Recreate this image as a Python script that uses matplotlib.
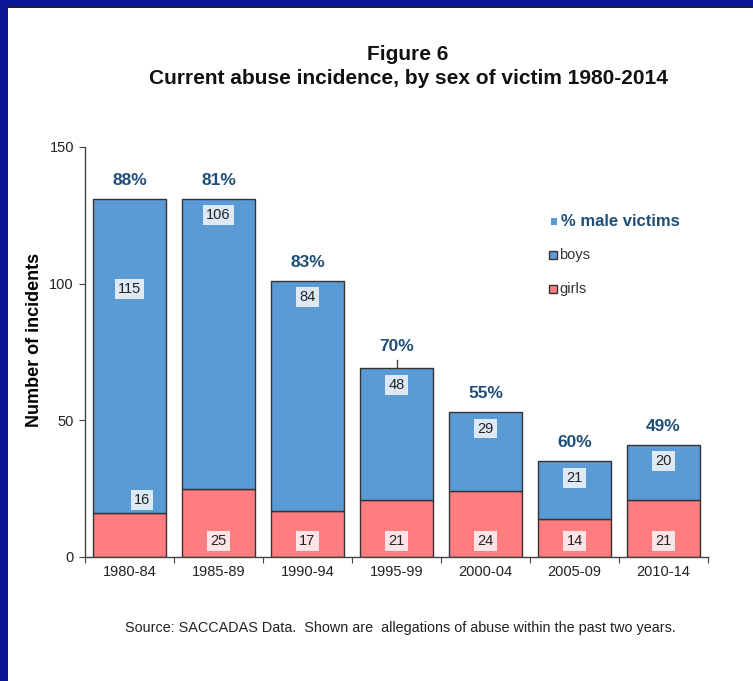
import matplotlib
matplotlib.use("Agg")
import matplotlib.pyplot as plt
from matplotlib.patches import Rectangle
from matplotlib.lines import Line2D
import numpy as np

periods = ["1980-84", "1985-89", "1990-94", "1995-99", "2000-04", "2005-09", "2010-14"]
boys = [115, 106, 84, 48, 29, 21, 20]
girls = [16, 25, 17, 21, 24, 14, 21]
pct_male = [88, 81, 83, 70, 55, 60, 49]
y_ticks = [0, 50, 100, 150]

FAM = ["Liberation Sans", "DejaVu Sans"]
plt.rcParams["font.family"] = FAM

BLUE = "#5B9BD5"
PINK = "#FF7C80"
DARKBLUE = "#1F4E79"
NAVY = "#0B1596"

fig = plt.figure(figsize=(7.53, 6.81), dpi=100)
fig.patch.set_facecolor("white")
# navy border
fig.patches.append(Rectangle((0, 0), 1, 1, transform=fig.transFigure, facecolor=NAVY, edgecolor="none", zorder=-10))
fig.patches.append(Rectangle((8/753, 0), 1, 1 - 8/681, transform=fig.transFigure, facecolor="white", edgecolor="none", zorder=-9))
fig.add_artist(Line2D([8/753, 1], [1 - 7/681, 1 - 7/681], transform=fig.transFigure, color="#222222", lw=1.2))

ax = fig.add_axes([85/753, 1 - 557/681, 623/753, 410/681])
x = np.arange(len(periods))
w = 0.83
ax.bar(x, girls, w, color=PINK, edgecolor="#333333", linewidth=1.0, zorder=2)
ax.bar(x, boys, w, bottom=girls, color=BLUE, edgecolor="#333333", linewidth=1.0, zorder=2)

ax.set_xlim(-0.5, len(periods) - 0.5)
ax.set_ylim(0, 150)
ax.set_yticks(y_ticks)
ax.set_yticklabels([str(t) for t in y_ticks], fontsize=10.5, color="#222222")
ax.set_xticks(np.arange(-0.5, len(periods)), minor=False)
ax.set_xticklabels([])
ax.set_xticks(x, minor=True)
ax.set_xticklabels(periods, minor=True, fontsize=10.5, color="#222222")
ax.tick_params(axis="x", which="minor", length=0, pad=6)
ax.tick_params(axis="x", which="major", length=4, direction="out", color="#444444")
ax.tick_params(axis="y", length=4, direction="out", color="#444444", pad=4)
for s in ["top", "right"]:
    ax.spines[s].set_visible(False)
for s in ["left", "bottom"]:
    ax.spines[s].set_color("#444444")
    ax.spines[s].set_linewidth(1.0)

ax.set_ylabel("Number of incidents", fontsize=13, fontweight="bold")
ax.yaxis.set_label_coords(-0.068, 0.53)

boxkw = dict(boxstyle="square,pad=0.2", facecolor="white", alpha=0.8, edgecolor="none")
for i in range(len(periods)):
    total = boys[i] + girls[i]
    by = total - 6
    bx = x[i]
    if i == 0:
        by = total - 33
    ax.text(bx, by, str(boys[i]), ha="center", va="center", fontsize=10.5, color="#222222", bbox=boxkw, zorder=5)
    gy = 6
    gx = x[i]
    if i == 0:
        gy = 21
        gx = x[i] + 0.14
    ax.text(gx, gy, str(girls[i]), ha="center", va="center", fontsize=10.5, color="#222222", bbox=boxkw, zorder=5)
    py = total + 6.8
    if i == 3:
        py = total + 8
        ax.plot([x[i], x[i]], [total + 0.5, total + 3.0], color="#444444", lw=1.0, zorder=4)
    ax.text(x[i], py, f"{pct_male[i]}%", ha="center", va="center", fontsize=12.5, fontweight="bold",
            color=DARKBLUE, zorder=5)

def fx(px):
    return px / 753
def fy(py):
    return 1 - py / 681

# legend (manual)
fig.patches.append(Rectangle((fx(551), fy(225)), 6/753, 7/681, transform=fig.transFigure, facecolor=BLUE, edgecolor="none"))
fig.text(fx(561), fy(221), "% male victims", fontsize=12, fontweight="bold", color=DARKBLUE, va="center", ha="left")
fig.patches.append(Rectangle((fx(549), fy(259)), 8/753, 8/681, transform=fig.transFigure, facecolor=BLUE, edgecolor="#333333", lw=1.0))
fig.text(fx(559), fy(255), "boys", fontsize=10.5, color="#333333", va="center", ha="left")
fig.patches.append(Rectangle((fx(549), fy(293)), 8/753, 8/681, transform=fig.transFigure, facecolor=PINK, edgecolor="#333333", lw=1.0))
fig.text(fx(559), fy(289), "girls", fontsize=10.5, color="#333333", va="center", ha="left")

fig.text(fx(408), fy(55), "Figure 6", fontsize=15, fontweight="bold", ha="center", va="center", color="#111111")
fig.text(fx(408), fy(79), "Current abuse incidence, by sex of victim 1980-2014", fontsize=15, fontweight="bold",
         ha="center", va="center", color="#111111")
fig.text(fx(400), fy(628), "Source: SACCADAS Data.  Shown are  allegations of abuse within the past two years.",
         fontsize=10.4, ha="center", va="center", color="#222222")

fig.savefig("out.png", dpi=100, facecolor=fig.get_facecolor())
